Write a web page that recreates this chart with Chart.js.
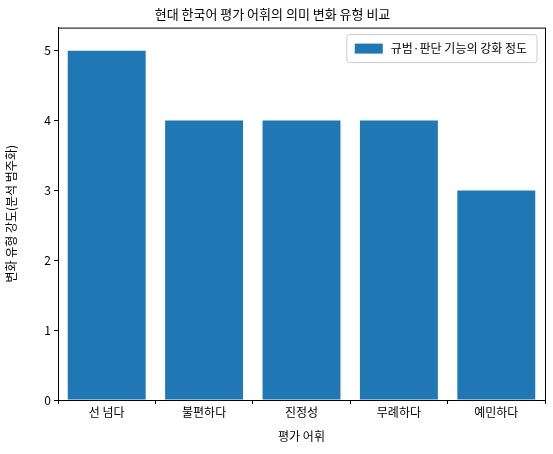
<!DOCTYPE html>
<html>
<head>
<meta charset="utf-8">
<script src="https://cdn.jsdelivr.net/npm/chart.js@4"></script>
<style>
body { margin: 0; background: #fff; }
#wrap { width: 553px; height: 454px; }
</style>
</head>
<body>
<div id="wrap"><canvas id="c" width="553" height="454"></canvas></div>
<script>
const words = ['선 넘다', '불편하다', '진정성', '무례하다', '예민하다'];
const strength = [5, 4, 4, 4, 3];
const yTicks = [0, 1, 2, 3, 4, 5];
const seriesName = '규범·판단 기능의 강화 정도';

const FONT = "'Noto Sans CJK KR', 'DejaVu Sans', sans-serif";
const BLUE = '#1f77b4';

// draw the legend inside the plot area, matplotlib style
const innerLegend = {
    id: 'innerLegend',
    afterDraw(chart) {
        const { ctx, chartArea } = chart;
        ctx.save();
        ctx.font = '12px ' + FONT;
        const w = ctx.measureText(seriesName).width + 54;
        const x = chartArea.right - w - 8, y = chartArea.top + 7;
        ctx.fillStyle = 'rgba(255,255,255,0.8)';
        ctx.strokeStyle = '#cccccc';
        ctx.lineWidth = 1;
        ctx.beginPath();
        ctx.roundRect(x, y, w, 28, 3);
        ctx.fill();
        ctx.stroke();
        ctx.fillStyle = BLUE;
        ctx.fillRect(x + 8, y + 9, 28, 10);
        ctx.fillStyle = '#000';
        ctx.textBaseline = 'middle';
        ctx.fillText(seriesName, x + 44, y + 14);
        ctx.restore();
    }
};

// full box around the plot
const frame = {
    id: 'frame',
    afterDraw(chart) {
        const { ctx, chartArea: a } = chart;
        ctx.save();
        ctx.strokeStyle = '#000';
        ctx.lineWidth = 1;
        ctx.strokeRect(a.left + 0.5, a.top + 0.5, a.right - a.left, a.bottom - a.top);
        ctx.restore();
    }
};

const tickGrid = { display: true, drawOnChartArea: false, drawTicks: true, tickLength: 4, color: '#000' };

new Chart(document.getElementById('c'), {
    type: 'bar',
    data: {
        labels: words,
        datasets: [{ label: seriesName, data: strength, backgroundColor: BLUE,
            barPercentage: 0.8, categoryPercentage: 1.0 }]
    },
    options: {
        responsive: false,
        animation: false,
        layout: { padding: { top: 0, right: 8, left: 0, bottom: 0 } },
        plugins: {
            legend: { display: false },
            tooltip: { enabled: false },
            title: {
                display: true,
                text: '현대 한국어 평가 어휘의 의미 변화 유형 비교',
                color: '#000',
                font: { family: FONT, size: 13, weight: 'normal' },
                padding: { top: 6, bottom: 6 }
            }
        },
        scales: {
            x: {
                grid: tickGrid,
                border: { color: '#000' },
                ticks: { color: '#000', font: { family: FONT, size: 12 }, padding: 1 },
                title: { display: true, text: '평가 어휘', color: '#000',
                    font: { family: FONT, size: 12 }, padding: { top: 0, bottom: 10 } },
                afterFit(s) { s.height = 54; }
            },
            y: {
                min: 0, max: 5.33,
                grid: tickGrid,
                border: { color: '#000' },
                ticks: { color: '#000', font: { family: FONT, size: 12 }, padding: 3 },
                afterBuildTicks(s) { s.ticks = yTicks.map(v => ({ value: v })); },
                title: { display: true, text: '변화 유형 강도(분석 범주화)', color: '#000',
                    font: { family: FONT, size: 12 } },
                afterFit(s) { s.width = 58; }
            }
        }
    },
    plugins: [innerLegend, frame]
});
</script>
</body>
</html>
